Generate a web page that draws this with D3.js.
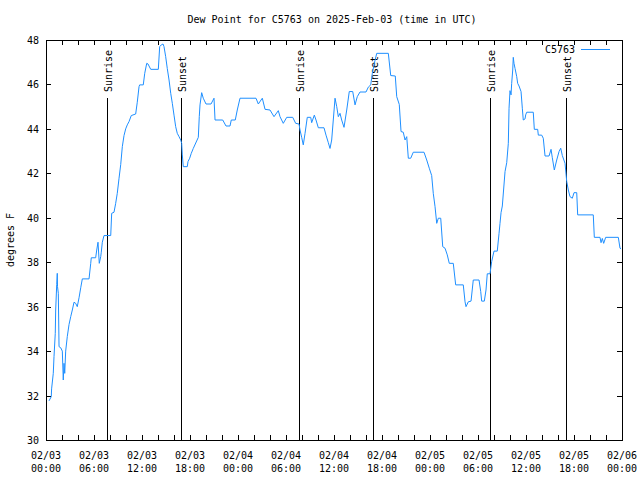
<!DOCTYPE html>
<html><head><meta charset="utf-8">
<script src="https://cdn.jsdelivr.net/npm/d3@7"></script>
<style>body{margin:0;background:#fff}</style></head>
<body>
<svg id="c" width="640" height="480"></svg>
<script>
// hours since 2025-02-03 00:00 UTC
const hours = [0.375,0.66,0.7,0.91,1.0,1.16,1.21,1.34,1.41,1.44,1.54,1.63,1.84,2.04,2.16,2.25,2.34,2.46,2.66,2.88,3.09,3.29,3.5,3.71,3.91,4.13,4.34,4.54,5.38,5.59,5.66,6.21,6.34,6.5,6.66,6.84,6.91,7.04,7.25,8.09,8.21,8.5,8.71,8.91,9.13,9.34,9.54,9.75,9.96,10.16,10.38,10.66,11.21,11.41,11.63,11.71,12.16,12.34,12.59,12.75,13.09,14.04,14.21,14.41,14.63,14.75,14.96,15.16,15.38,15.59,15.79,16.0,16.21,16.41,16.63,16.84,16.96,17.04,17.16,17.66,17.75,17.96,18.16,18.41,19.04,19.16,19.25,19.46,19.66,20.0,20.63,21.0,21.13,22.09,22.5,23.0,23.16,23.66,23.91,24.25,26.25,26.54,26.88,27.04,27.38,28.0,28.5,29.04,29.25,29.66,30.09,30.84,31.21,31.63,31.75,31.96,32.16,32.38,32.66,33.09,33.21,33.54,33.75,34.04,34.75,35.0,35.29,35.5,35.71,36.13,36.34,36.54,36.75,36.96,37.25,37.59,37.91,38.34,38.63,38.91,39.25,40.0,40.29,40.59,40.79,41.04,41.34,42.79,43.09,43.66,43.84,44.16,44.38,44.66,44.88,45.09,45.29,45.59,45.91,47.25,47.59,47.91,48.21,48.41,48.63,48.84,49.04,49.34,49.59,49.88,50.16,50.41,50.91,51.21,52.16,52.38,52.5,52.79,53.13,53.41,54.13,54.34,54.46,54.79,55.0,55.16,55.5,55.71,56.0,56.41,56.63,56.75,56.88,57.04,57.38,57.59,57.79,57.88,58.0,58.13,58.21,58.34,58.41,58.5,58.63,58.84,58.96,59.13,59.38,59.54,59.66,59.88,59.96,60.09,60.91,61.04,61.46,61.54,61.96,62.16,62.38,62.88,63.13,63.29,63.54,63.84,64.13,64.34,64.54,64.88,65.09,65.29,65.5,65.79,66.0,66.34,66.46,68.41,68.54,69.25,69.38,69.54,69.71,69.96,71.54,71.75,71.88];
const dewF = [31.76,31.95,32.3,33.0,33.75,34.8,35.85,37.0,37.5,36.9,36.6,34.2,34.15,34.0,32.7,33.45,33.0,34.0,34.65,35.2,35.55,35.85,36.2,36.15,36.0,36.4,36.85,37.25,37.25,37.95,38.2,38.2,38.55,38.9,37.95,38.25,38.45,38.9,39.2,39.2,40.2,40.25,40.65,41.1,41.78,42.4,43.2,43.7,44.0,44.18,44.33,44.6,44.67,45.2,45.9,45.98,45.98,46.5,46.95,46.92,46.68,46.68,47.7,47.78,47.82,47.7,47.25,46.72,46.2,45.6,45.15,44.62,44.1,43.8,43.65,43.5,43.35,42.83,42.3,42.3,42.53,42.68,42.9,43.12,43.62,44.55,45.08,45.63,45.38,45.12,45.12,45.38,44.4,44.4,44.13,44.13,44.4,44.4,44.85,45.38,45.38,45.12,45.3,45.38,44.88,44.85,44.55,44.82,44.55,44.25,44.52,44.52,44.25,44.22,43.95,43.62,43.28,43.8,44.52,44.52,44.28,44.62,44.4,44.05,44.05,43.72,43.38,43.12,43.5,45.38,45.0,44.55,44.7,44.4,44.07,44.85,45.68,45.68,45.08,45.45,45.66,45.66,45.88,45.98,46.5,46.95,47.4,47.4,46.4,46.38,45.45,45.1,43.88,43.85,43.5,43.65,42.68,42.68,42.95,42.95,42.6,42.23,41.9,41.1,40.5,39.75,39.98,39.98,38.7,38.63,38.33,37.95,37.95,36.98,36.98,36.22,36.0,36.22,36.25,37.2,37.2,36.68,36.25,36.25,36.75,37.48,37.48,38.03,38.5,38.5,39.3,39.75,40.23,40.53,42.08,42.48,43.35,44.93,45.72,45.53,46.05,46.65,47.22,46.95,46.72,46.35,46.05,45.93,45.68,44.93,44.4,44.45,44.63,44.75,44.75,43.98,43.98,43.72,43.72,43.58,42.78,42.78,43.08,42.7,42.15,42.6,42.98,43.13,42.8,42.45,41.63,41.25,40.95,40.88,41.13,41.13,40.13,40.13,39.12,39.12,38.88,39.07,38.85,39.12,39.12,38.63,38.6];
const eventHours = [7.66,16.91,31.66,40.91,55.54,64.96];
const eventNames = ["Sunrise","Sunset","Sunrise","Sunset","Sunrise","Sunset"];
const yTicks = [30,32,34,36,38,40,42,44,46,48];
const xMajorHours = [0,6,12,18,24,30,36,42,48,54,60,66,72];
const xMajorLabels = [["02/03","00:00"],["02/03","06:00"],["02/03","12:00"],["02/03","18:00"],["02/04","00:00"],["02/04","06:00"],["02/04","12:00"],["02/04","18:00"],["02/05","00:00"],["02/05","06:00"],["02/05","12:00"],["02/05","18:00"],["02/06","00:00"]];
const titleText = "Dew Point for C5763 on 2025-Feb-03 (time in UTC)";
const yLabelText = "degrees F";
const seriesName = "C5763";

const t0 = Date.UTC(2025,1,3);
const H = 3600000;
const toDate = h => new Date(t0 + h*H);
const L=46, R=622, T=40, B=440;
const font = "'DejaVu Sans Mono', monospace";
const svg = d3.select("#c");
const x = d3.scaleUtc().domain([toDate(0), toDate(72)]).range([L, R]);
const y = d3.scaleLinear().domain([30,48]).range([B, T]);

const g = svg.append("g").attr("font-family", font).attr("font-size", 10);

const xTickHours = d3.range(0, 73, 2);
const xb = d3.axisBottom(x).tickValues(xTickHours.map(toDate)).tickSize(-5).tickFormat("");
const xt = d3.axisTop(x).tickValues(xTickHours.map(toDate)).tickSize(-5).tickFormat("");
const yl = d3.axisLeft(y).tickValues(yTicks).tickSize(-5).tickFormat("");
const yr = d3.axisRight(y).tickValues(yTicks).tickSize(-5).tickFormat("");
[[xb,`translate(0,${B})`],[xt,`translate(0,${T})`],[yl,`translate(${L},0)`],[yr,`translate(${R},0)`]].forEach(([ax,tr])=>{
  const a = g.append("g").attr("transform", tr).call(ax);
  a.select(".domain").remove();
  a.selectAll("line").attr("stroke","#000").attr("shape-rendering","crispEdges");
});
g.append("rect").attr("x",L+0.5).attr("y",T+0.5).attr("width",R-L).attr("height",B-T)
  .attr("fill","none").attr("stroke","#000").attr("shape-rendering","crispEdges");

g.selectAll(".yl").data(yTicks).join("text")
  .attr("x", L-7).attr("y", d=>y(d)+4).attr("text-anchor","end").text(d=>d);

const xl = g.selectAll(".xl").data(xMajorHours).join("text")
  .attr("text-anchor","middle").attr("transform", d=>`translate(${x(toDate(d))},0)`);
xl.append("tspan").attr("x",0).attr("y",459).text((d,i)=>xMajorLabels[i][0]);
xl.append("tspan").attr("x",0).attr("y",472).text((d,i)=>xMajorLabels[i][1]);

g.append("text").attr("x",332).attr("y",23).attr("text-anchor","middle").text(titleText);
g.append("text").attr("transform","translate(14,240) rotate(-90)").attr("text-anchor","middle").text(yLabelText);

eventHours.forEach((h,i)=>{
  const ex = Math.round(x(toDate(h)))+0.5;
  g.append("line").attr("x1",ex).attr("x2",ex).attr("y1",98).attr("y2",B)
    .attr("stroke","#000").attr("shape-rendering","crispEdges");
  g.append("text").attr("transform",`translate(${ex+4},92) rotate(-90)`).attr("text-anchor","start").text(eventNames[i]);
});

const pts = hours.map((h,i)=>[toDate(h), dewF[i]]);
const line = d3.line().x(d=>x(d[0])).y(d=>y(d[1]));
g.append("path").attr("d", line(pts)).attr("fill","none").attr("stroke","#1e8fff").attr("stroke-width",1);

g.append("text").attr("x",575).attr("y",53).attr("text-anchor","end").text(seriesName);
g.append("line").attr("x1",581).attr("x2",610).attr("y1",49.5).attr("y2",49.5).attr("stroke","#1e8fff").attr("stroke-width",1);
</script>
</body></html>
